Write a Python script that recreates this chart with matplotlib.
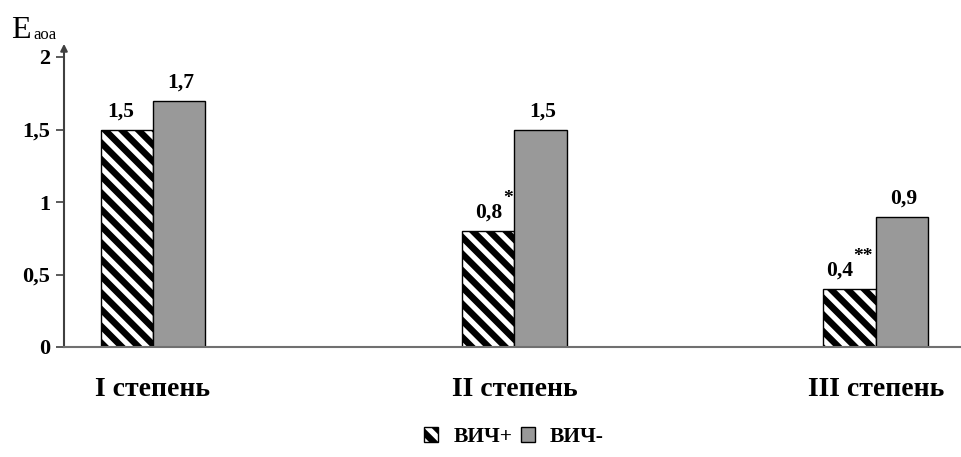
import matplotlib

matplotlib.use("Agg")

import matplotlib.pyplot as plt
from matplotlib.legend_handler import HandlerTuple
from matplotlib.patches import Patch
import numpy as np

CATEGORIES = ["I степень", "II степень", "III степень"]
HIV_POSITIVE = [1.5, 0.8, 0.4]
HIV_NEGATIVE = [1.7, 1.5, 0.9]
POSITIVE_MARKS = ["", "*", "**"]
SERIES_NAMES = ["ВИЧ+", "ВИЧ-"]
Y_TICKS = [0, 0.5, 1, 1.5, 2]
Y_TICK_LABELS = ["0", "0,5", "1", "1,5", "2"]

SERIF = "Liberation Serif"
GREY = "#999999"
AXIS_COLOR = "#404040"
BAR_WIDTH = 0.145
HATCH = "\\\\"

plt.rcParams["font.family"] = SERIF
plt.rcParams["hatch.linewidth"] = 3.8


def fmt(value: float) -> str:
    return f"{value:g}".replace(".", ",")


figure = plt.figure(figsize=(9.61, 4.57), dpi=100)
axis = figure.add_axes([64 / 961, 1 - 347 / 457, 896 / 961, 290 / 457])

positions = np.arange(len(CATEGORIES))
# штриховка берёт цвет от кромки, поэтому контур рисуется отдельно
axis.bar(
    positions - BAR_WIDTH / 2,
    HIV_POSITIVE,
    width=BAR_WIDTH,
    color="black",
    edgecolor="white",
    hatch=HATCH,
    linewidth=0,
)
left_bars = axis.bar(
    positions - BAR_WIDTH / 2,
    HIV_POSITIVE,
    width=BAR_WIDTH,
    fill=False,
    edgecolor="black",
    linewidth=1.0,
)
right_bars = axis.bar(
    positions + BAR_WIDTH / 2,
    HIV_NEGATIVE,
    width=BAR_WIDTH,
    color=GREY,
    edgecolor="black",
    linewidth=1.0,
)

# подписи значений над столбцами; звёздочки — верхним индексом
for bar, value, mark in zip(left_bars, HIV_POSITIVE, POSITIVE_MARKS):
    x = bar.get_x() + bar.get_width() / 2
    if not mark:
        axis.annotate(
            fmt(value),
            xy=(x, value),
            xytext=(-4.5, 6),
            textcoords="offset points",
            ha="center",
            va="bottom",
            fontsize=15.5,
            fontweight="bold",
        )
        continue
    shift = 18.5 - 8 * len(mark)
    axis.annotate(
        fmt(value),
        xy=(x, value),
        xytext=(shift, 6),
        textcoords="offset points",
        ha="right",
        va="bottom",
        fontsize=15.5,
        fontweight="bold",
    )
    axis.annotate(
        mark,
        xy=(x, value),
        xytext=(shift, 17),
        textcoords="offset points",
        ha="left",
        va="bottom",
        fontsize=14,
        fontweight="bold",
    )

for bar, value in zip(right_bars, HIV_NEGATIVE):
    axis.annotate(
        fmt(value),
        xy=(bar.get_x() + bar.get_width() / 2, value),
        xytext=(1.5, 6),
        textcoords="offset points",
        ha="center",
        va="bottom",
        fontsize=15.5,
        fontweight="bold",
    )

for position, name in zip(positions, CATEGORIES):
    axis.text(
        position,
        -0.145,
        name,
        transform=axis.get_xaxis_transform(),
        ha="center",
        va="center",
        fontsize=20,
        fontweight="bold",
    )

axis.set_xlim(-0.246, 2.233)
axis.set_ylim(0, 2)
axis.set_xticks([])
axis.set_yticks(Y_TICKS)
axis.set_yticklabels(Y_TICK_LABELS, fontsize=16, fontweight="bold")
axis.tick_params(axis="y", direction="out", length=6, width=1.2, color=AXIS_COLOR, pad=4)

for side in ("top", "right"):
    axis.spines[side].set_visible(False)
axis.spines["left"].set_color(AXIS_COLOR)
axis.spines["left"].set_linewidth(1.5)
axis.spines["bottom"].set_color("#707070")
axis.spines["bottom"].set_linewidth(1.5)

# стрелка оси ординат
axis.annotate(
    "",
    xy=(0, 2.11),
    xycoords=("axes fraction", "data"),
    xytext=(0, 1.99),
    textcoords=("axes fraction", "data"),
    arrowprops=dict(arrowstyle="-|>", color=AXIS_COLOR, lw=1.5, mutation_scale=10),
    annotation_clip=False,
)

figure.text(11 / 961, 1 - 38 / 457, "E", fontsize=23, ha="left", va="baseline")
figure.text(33 / 961, 1 - 39 / 457, "аоа", fontsize=12, ha="left", va="baseline")

hatched_handle = (
    Patch(facecolor="black", edgecolor="white", hatch=HATCH, linewidth=0),
    Patch(fill=False, edgecolor="black", linewidth=1.0),
)
grey_handle = Patch(facecolor=GREY, edgecolor="black", linewidth=1.0)
figure.legend(
    handles=[hatched_handle, grey_handle],
    labels=SERIES_NAMES,
    handler_map={tuple: HandlerTuple(ndivide=1, pad=0)},
    loc="center",
    bbox_to_anchor=(514 / 961, 1 - 437 / 457),
    ncol=2,
    frameon=False,
    prop={"family": SERIF, "weight": "bold", "size": 15.5},
    handlelength=0.65,
    handleheight=0.65,
    handletextpad=0.7,
    columnspacing=0.4,
)

figure.savefig("out.png", dpi=100)
